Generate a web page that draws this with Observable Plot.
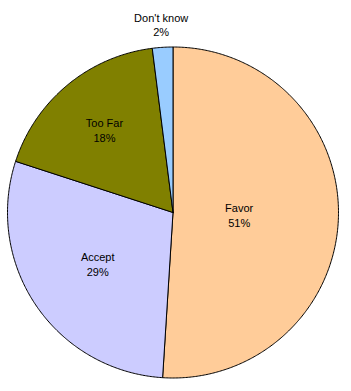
<!DOCTYPE html>
<html>
<head>
<meta charset="utf-8">
<script src="https://cdn.jsdelivr.net/npm/d3@7"></script>
<script src="https://cdn.jsdelivr.net/npm/@observablehq/plot@0.6"></script>
<style>
  html, body { margin: 0; padding: 0; background: #fff; }
  #chart svg { display: block; }
</style>
</head>
<body>
<div id="chart"></div>
<script>
// Data
const categories = ["Favor", "Accept", "Too Far", "Don't know"];
const values = [51, 29, 18, 2];
const percentLabels = ["51%", "29%", "18%", "2%"];

// Styles / layout (not data)
const colors = ["#FFCC99", "#CCCCFF", "#808000", "#99CCFF"];
const labelRadius = [0.40, 0.55, 0.65, 1.14];

const W = 351, H = 391;
const R = 165.5, CX = 172.5, CY = 212;

const total = d3.sum(values);
let acc = 0;
const slices = values.map((v, i) => {
  const a0 = acc / total * 2 * Math.PI;
  acc += v;
  const a1 = acc / total * 2 * Math.PI;
  return {name: categories[i], value: v, a0, a1, color: colors[i]};
});

const pt = (a, r) => ({x: r * Math.sin(a), y: r * Math.cos(a)});

function slicePath(s) {
  const n = Math.max(4, Math.ceil((s.a1 - s.a0) / (Math.PI / 180) * 2));
  const pts = [pt(0, 0)];
  for (let k = 0; k <= n; k++) pts.push(pt(s.a0 + (s.a1 - s.a0) * k / n, 1));
  pts.push(pt(0, 0));
  return pts;
}

const labels = slices.map((s, i) => {
  const m = (s.a0 + s.a1) / 2;
  const p = pt(m, labelRadius[i]);
  return {x: p.x, y: p.y, text: categories[i] + "\n" + percentLabels[i]};
});

const chart = Plot.plot({
  width: W,
  height: H,
  margin: 0,
  style: {background: "#fff"},
  x: {domain: [-CX / R, (W - CX) / R], range: [0, W], axis: null},
  y: {domain: [-(H - CY) / R, CY / R], range: [H, 0], axis: null},
  marks: [
    ...slices.map(s => Plot.line(slicePath(s), {
      x: "x", y: "y", fill: s.color, stroke: "#000", strokeWidth: 1, curve: "linear"
    })),
    Plot.text(labels, {
      x: "x", y: "y", text: "text",
      fontSize: 11, fontFamily: "'Liberation Sans', Arial, sans-serif",
      lineHeight: 15 / 11, fill: "#000"
    })
  ]
});
document.getElementById("chart").appendChild(chart);
</script>
</body>
</html>
